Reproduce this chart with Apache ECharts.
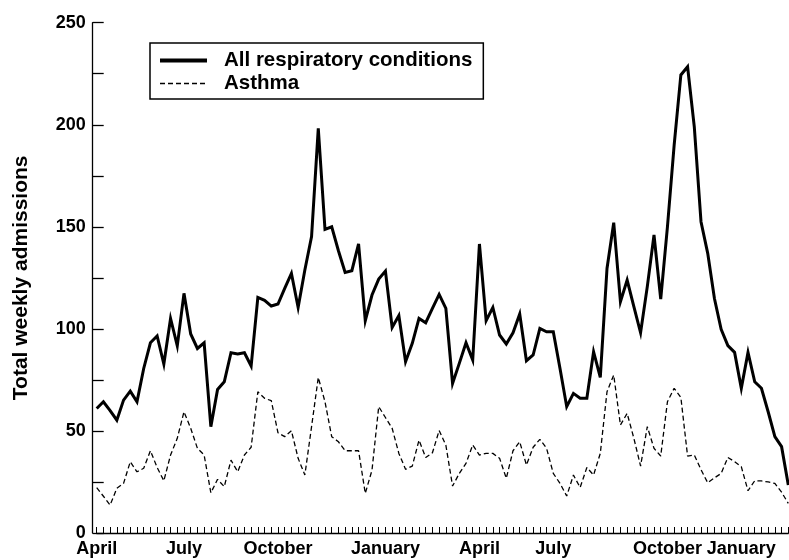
<!DOCTYPE html>
<html><head><meta charset="utf-8">
<script src="https://cdn.jsdelivr.net/npm/echarts@6/dist/echarts.min.js"></script>
<style>html,body{margin:0;padding:0;background:#fff}#c{width:789px;height:560px}</style>
</head><body><div id="c"></div>
<script>
const seriesNames = ['All respiratory conditions', 'Asthma'];

const allRespiratory = [
  61.0, 64.3, 60.0, 55.3, 65.1, 69.5, 64.3, 80.6, 93.2, 96.5,
  82.8, 105.1, 91.7, 117.4, 97.5, 90.4, 93.2, 52.1, 70.3, 74.1,
  88.3, 87.7, 88.3, 81.8, 115.4, 114.0, 111.2, 112.2, 119.8, 127.2,
  110.5, 128.8, 145.2, 198.2, 148.7, 150.0, 138.3, 127.7, 128.5, 141.6,
  104.0, 116.6, 124.4, 128.3, 100.7, 106.5, 83.9, 92.9, 105.1, 103.0,
  110.0, 116.9, 110.0, 73.3, 83.1, 93.2, 84.7, 141.6, 104.0, 110.5,
  97.0, 92.6, 98.1, 107.3, 84.4, 87.2, 100.2, 98.6, 98.6, 80.6,
  61.9, 68.4, 66.0, 66.0, 88.8, 76.2, 129.6, 152.0, 113.3, 123.9,
  110.9, 98.1, 120.7, 146.0, 114.6, 150.0, 190.0, 224.4, 228.4, 199.0,
  152.5, 137.0, 114.9, 99.8, 91.8, 88.5, 70.9, 88.5, 74.1, 70.9,
  59.4, 47.2, 42.3, 23.5
];

const asthma = [
  22.2, 18.0, 13.7, 21.9, 24.3, 34.9, 30.0, 31.7, 40.3, 32.1,
  25.6, 38.2, 46.4, 59.4, 51.3, 41.5, 38.2, 19.7, 26.3, 22.7,
  35.7, 30.0, 38.2, 42.0, 69.2, 66.0, 64.8, 49.1, 47.2, 50.1,
  36.6, 28.4, 52.1, 76.2, 64.3, 47.2, 44.7, 40.3, 40.3, 40.3,
  19.4, 30.8, 61.9, 56.6, 51.3, 39.0, 31.2, 32.8, 45.5, 37.0,
  39.3, 50.2, 43.0, 23.0, 29.2, 34.1, 43.1, 38.2, 39.0, 39.0,
  36.6, 26.8, 40.3, 44.7, 33.3, 42.0, 45.9, 41.5, 29.2, 24.3,
  18.1, 28.4, 22.3, 32.1, 28.4, 39.0, 69.2, 77.4, 52.9, 58.6,
  46.4, 32.8, 52.1, 41.5, 37.7, 64.3, 70.9, 66.4, 37.7, 38.2,
  31.0, 24.6, 27.0, 29.2, 37.0, 35.0, 32.5, 20.7, 25.6, 25.5,
  25.0, 24.3, 20.0, 14.5
];

const monthLabels = ['April', 'July', 'October', 'January', 'April', 'July', 'October', 'January'];
const monthLabelWeeks = [0, 13, 27, 43, 57, 68, 85, 96];
const yTickLabels = [0, 50, 100, 150, 200, 250];

const weeks = allRespiratory.map((_, i) => String(i));
const FONT = '"Liberation Sans", Arial, Helvetica, sans-serif';

const chart = echarts.init(document.getElementById('c'), null, {renderer: 'canvas'});
chart.setOption({
  backgroundColor: '#fff',
  animation: false,
  textStyle: {fontFamily: FONT, color: '#000'},
  grid: {left: 96.7, right: 0.7, top: 22.7, bottom: 27, containLabel: false, outerBoundsMode: 'none'},
  legend: {
    orient: 'vertical',
    left: 150, top: 43,
    padding: [6, 11, 4, 8],
    itemGap: 0,
    itemWidth: 47, itemHeight: 14,
    borderColor: '#000', borderWidth: 1.5,
    backgroundColor: '#fff',
    textStyle: {fontSize: 20.5, fontWeight: 'bold', color: '#000', fontFamily: FONT, lineHeight: 23,
      rich: {a: {fontSize: 20.5, fontWeight: 'bold', color: '#000', fontFamily: FONT, lineHeight: 23, padding: [0, 0, 0, 12]}}},
    formatter: name => '{a|' + name + '}',
    data: [
      {name: seriesNames[0], lineStyle: {width: 4, type: 'solid', color: '#000'},
        itemStyle: {color: 'transparent', borderWidth: 0, opacity: 0}},
      {name: seriesNames[1], lineStyle: {width: 1.3, type: [5, 3], color: '#000'},
        itemStyle: {color: 'transparent', borderWidth: 0, opacity: 0}}
    ]
  },
  xAxis: {
    type: 'category',
    data: weeks,
    boundaryGap: false,
    axisLine: {show: true, lineStyle: {color: '#000', width: 1.3}},
    axisTick: {show: true, inside: true, length: 6, interval: 0, lineStyle: {color: '#000', width: 1}},
    axisLabel: {
      interval: (i) => monthLabelWeeks.includes(i),
      formatter: (v, i) => { const k = monthLabelWeeks.indexOf(i); return k >= 0 ? monthLabels[k] : ''; },
      margin: 7, fontSize: 18, fontWeight: 'bold', color: '#000', fontFamily: FONT
    },
    splitLine: {show: false}
  },
  yAxis: {
    type: 'value',
    min: 0, max: 250, interval: 25,
    offset: 4,
    name: 'Total weekly admissions',
    nameLocation: 'middle',
    nameGap: 61,
    nameTextStyle: {fontSize: 21, fontWeight: 'bold', color: '#000', fontFamily: FONT},
    axisLine: {show: true, lineStyle: {color: '#000', width: 1.3}},
    axisTick: {show: true, inside: true, length: 11, lineStyle: {color: '#000', width: 1.3}},
    axisLabel: {
      formatter: v => yTickLabels.includes(v) ? String(v) : '',
      margin: 7, fontSize: 18, fontWeight: 'bold', color: '#000', fontFamily: FONT
    },
    splitLine: {show: false}
  },
  series: [
    {
      name: seriesNames[0], type: 'line', data: allRespiratory,
      symbol: 'none', silent: true,
      lineStyle: {color: '#000', width: 3, join: 'miter', miterLimit: 6},
      itemStyle: {color: '#000'}
    },
    {
      name: seriesNames[1], type: 'line', data: asthma,
      symbol: 'none', silent: true,
      lineStyle: {color: '#000', width: 1.3, type: [5, 3]},
      itemStyle: {color: '#000'}
    }
  ]
});
</script>
</body></html>
